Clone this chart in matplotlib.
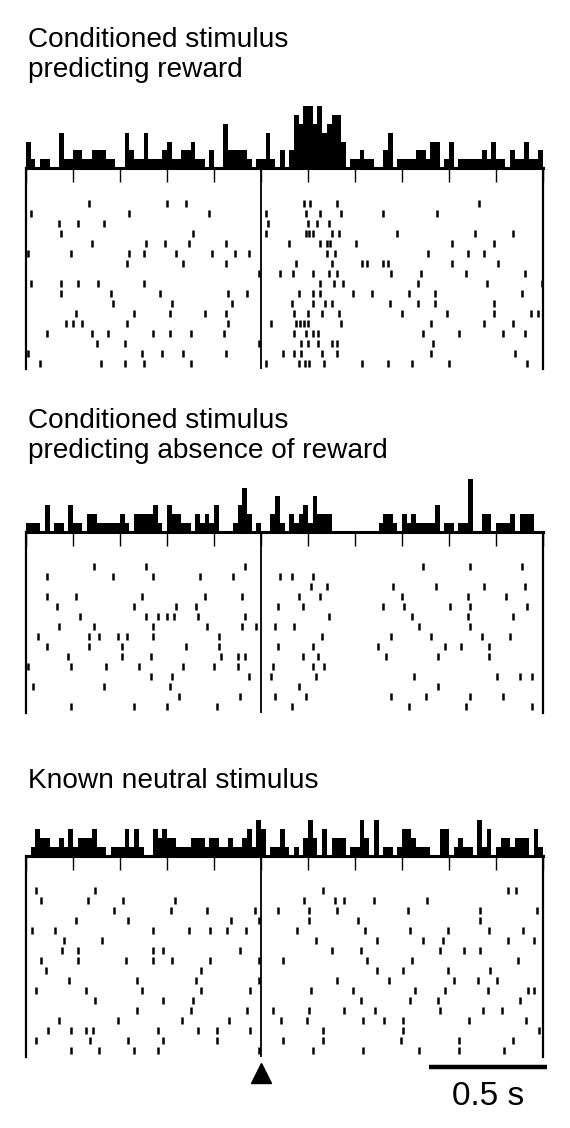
import numpy as np
import matplotlib
matplotlib.use("Agg")
import matplotlib.pyplot as plt

plt.rcParams["font.family"] = ["Liberation Sans", "DejaVu Sans"]

# ---- data (time in s, stimulus onset at 0) ----
T_START, T_END, BIN = -1.0, 1.2, 0.02

titles = [["Conditioned stimulus", "predicting reward"],
          ["Conditioned stimulus", "predicting absence of reward"],
          ["Known neutral stimulus"]]

hist_reward = [3, 1, 0, 1, 1, 0, 0, 4, 1, 1, 2, 2, 1, 1, 2, 2, 2, 1, 1, 0,
               0, 4, 2, 1, 1, 4, 1, 1, 1, 2, 3, 1, 1, 2, 2, 3, 1, 1, 0, 2,
               0, 0, 5, 2, 2, 2, 2, 1, 0, 1, 1, 4, 1, 0, 2, 0, 2, 6, 5, 7,
               7, 5, 7, 4, 5, 6, 6, 3, 0, 1, 1, 2, 1, 1, 0, 0, 2, 4, 0, 1,
               1, 1, 1, 2, 2, 1, 3, 3, 0, 1, 3, 0, 1, 1, 1, 1, 1, 2, 1, 3,
               1, 1, 0, 2, 1, 1, 3, 1, 1, 2]
hist_noreward = [1, 1, 1, 0, 3, 0, 1, 1, 0, 3, 1, 1, 0, 2, 2, 1, 1, 1, 1, 1,
                 2, 1, 0, 2, 2, 2, 2, 3, 1, 0, 3, 2, 2, 1, 1, 0, 2, 1, 2, 1,
                 3, 0, 0, 0, 1, 3, 5, 2, 0, 1, 0, 0, 2, 4, 1, 0, 2, 1, 2, 3,
                 1, 4, 2, 2, 2, 0, 0, 0, 0, 0, 0, 0, 0, 0, 0, 1, 2, 2, 1, 0,
                 2, 1, 2, 1, 1, 1, 1, 3, 0, 1, 1, 0, 1, 1, 6, 0, 0, 2, 2, 0,
                 1, 1, 1, 2, 0, 2, 2, 2, 0, 0]
hist_neutral = [0, 1, 3, 2, 2, 1, 1, 2, 1, 3, 1, 2, 2, 2, 3, 1, 1, 0, 1, 1,
                1, 3, 1, 3, 1, 0, 0, 3, 2, 3, 2, 2, 1, 1, 1, 2, 2, 2, 1, 2,
                2, 1, 1, 2, 1, 1, 2, 3, 1, 4, 3, 0, 1, 1, 3, 1, 0, 1, 0, 2,
                4, 2, 0, 3, 0, 2, 2, 2, 0, 1, 1, 4, 2, 0, 4, 0, 1, 1, 0, 1,
                3, 3, 2, 1, 1, 1, 0, 0, 3, 3, 0, 1, 2, 1, 1, 0, 4, 1, 3, 0,
                1, 2, 2, 1, 2, 2, 2, 0, 3, 1]

spikes_reward = [
    [-0.730, -0.399, -0.320, 0.184, 0.208, 0.322, 0.929],
    [-0.980, -0.560, -0.220, 0.020, 0.191, 0.251, 0.340, 0.520, 0.750],
    [-0.858, -0.780, -0.669, 0.031, 0.201, 0.240, 0.291],
    [-0.851, -0.288, 0.020, 0.191, 0.204, 0.223, 0.301, 0.333, 0.580, 0.911, 1.071],
    [-0.718, -0.489, -0.410, -0.308, -0.149, 0.120, 0.251, 0.280, 0.294, 0.403, 0.811, 0.993],
    [-0.993, -0.809, -0.560, -0.498, -0.362, -0.210, -0.109, -0.050, 0.280, 0.314, 0.709, 0.882, 0.950],
    [-0.570, -0.331, -0.149, 0.149, 0.303, 0.431, 0.450, 0.520, 0.542, 0.811, 1.010],
    [-0.007, 0.081, 0.137, 0.223, 0.291, 0.322, 0.552, 0.681, 0.871, 1.123],
    [-0.980, -0.851, -0.780, -0.692, -0.498, 0.251, 0.312, 0.350, 0.669, 0.960, 1.194],
    [-0.851, -0.640, -0.430, -0.139, -0.058, 0.162, 0.223, 0.251, 0.390, 0.471, 0.630, 0.740, 1.112],
    [-0.628, -0.377, -0.122, 0.131, 0.223, 0.272, 0.301, 0.549, 0.669, 0.740, 0.993],
    [-0.789, -0.539, -0.387, -0.238, -0.149, 0.140, 0.201, 0.261, 0.333, 0.601, 0.793, 0.993, 1.149, 1.180],
    [-0.831, -0.801, -0.760, -0.570, -0.139, 0.041, 0.149, 0.166, 0.184, 0.201, 0.340, 0.722, 0.950, 1.071],
    [-0.911, -0.718, -0.650, -0.460, -0.387, -0.299, -0.159, 0.140, 0.191, 0.223, 0.241, 0.691, 0.843, 1.031, 1.123],
    [-0.699, -0.579, -0.007, 0.170, 0.201, 0.241, 0.301, 0.325, 0.731],
    [-0.993, -0.508, -0.420, -0.331, -0.149, 0.092, 0.140, 0.170, 0.261, 0.322, 0.722, 1.081],
    [-0.940, -0.681, -0.579, -0.498, -0.299, 0.020, 0.162, 0.187, 0.204, 0.269, 0.431, 0.542, 0.641, 0.801, 1.131],
]

spikes_noreward = [
    [-0.709, -0.489, -0.068, 0.691, 0.889, 1.112],
    [-0.911, -0.628, -0.461, -0.260, -0.120, 0.081, 0.131, 0.223],
    [0.211, 0.282, 0.563, 0.743, 0.950, 1.123],
    [-0.911, -0.789, -0.508, -0.238, -0.080, 0.162, 0.251, 0.601, 0.882, 1.043],
    [-0.869, -0.539, -0.362, -0.278, 0.071, 0.180, 0.520, 0.610, 0.804, 0.889, 1.133],
    [-0.770, -0.489, -0.440, -0.401, -0.370, -0.267, -0.068, 0.291, 0.641, 0.882, 1.071],
    [-0.860, -0.709, -0.461, -0.229, -0.080, -0.021, 0.061, 0.140, 0.672, 0.889],
    [-0.950, -0.730, -0.691, -0.610, -0.569, -0.461, -0.179, 0.261, 0.552, 0.722, 0.942, 1.060],
    [-0.911, -0.730, -0.590, -0.320, -0.179, 0.071, 0.223, 0.499, 0.783, 0.851, 0.970],
    [-0.820, -0.590, -0.468, -0.169, -0.099, -0.068, 0.180, 0.241, 0.531, 0.752, 0.970],
    [-0.993, -0.809, -0.660, -0.519, -0.331, -0.199, -0.099, 0.052, 0.223, 0.269],
    [-0.468, -0.377, -0.050, 0.041, 0.233, 0.651, 1.003, 1.102, 1.152],
    [-0.970, -0.669, -0.387, 0.162, 0.752],
    [-0.349, -0.089, 0.061, 0.190, 0.552, 0.702, 0.889, 1.031],
    [-0.809, -0.539, -0.399, -0.189, 0.131, 0.631, 0.872, 1.152],
]

spikes_neutral = [
    [-0.957, -0.706, 0.263, 1.052, 1.084],
    [-0.937, -0.737, -0.588, -0.366, 0.184, 0.315, 0.353, 0.482, 0.705],
    [-0.625, -0.384, -0.229, -0.026, 0.074, 0.204, 0.325, 0.624, 0.932, 1.173],
    [-0.787, -0.567, -0.128, -0.007, 0.204, 0.414, 0.932],
    [-0.976, -0.877, -0.458, -0.306, -0.217, -0.146, -0.065, 0.154, 0.443, 0.634, 0.797, 0.971, 1.116],
    [-0.837, -0.678, 0.234, 0.492, 0.691, 0.773, 1.052, 1.163],
    [-0.845, -0.777, -0.458, -0.416, -0.089, 0.303, 0.424, 0.762, 0.864, 0.932],
    [-0.937, -0.777, -0.576, -0.458, -0.377, -0.217, -0.007, 0.095, 0.452, 0.644, 1.095],
    [-0.916, -0.257, 0.492, 0.603, 0.797, 0.974],
    [-0.817, -0.526, -0.277, -0.007, 0.325, 0.545, 0.823, 0.925, 1.005],
    [-0.957, -0.746, -0.505, -0.257, -0.047, 0.213, 0.393, 0.655, 0.783, 0.965, 1.135, 1.163],
    [-0.706, -0.416, -0.288, 0.424, 0.634, 0.754, 1.102],
    [-0.526, -0.298, -0.058, 0.052, 0.204, 0.353, 0.485, 0.762, 0.943, 1.024],
    [-0.858, -0.607, -0.337, -0.135, 0.085, 0.194, 0.435, 0.523, 0.603, 0.885, 1.126],
    [-0.908, -0.809, -0.746, -0.716, -0.437, -0.267, -0.186, -0.047, 0.263, 0.603, 1.184],
    [-0.957, -0.728, -0.567, -0.418, -0.186, 0.095, 0.263, 0.594, 0.844, 1.074],
    [-0.809, -0.688, -0.539, -0.437, -0.007, 0.223, 0.435, 0.674, 0.844, 1.035],
]

hists = [hist_reward, hist_noreward, hist_neutral]
rasters = [spikes_reward, spikes_noreward, spikes_neutral]

# ---- layout in pixels ----
W, H = 570, 1128
X0, X1 = 26, 543
baselines = [168, 531.5, 855.5]
title_y = [47, 428, 788]   # baseline of the first title line
LINE_GAP = 30
PX_PER_COUNT = 8.8
ROW_PX = 10
FIRST_ROW = 35


def box(x0, y0, x1, y1):
    return [x0 / W, 1 - y1 / H, (x1 - x0) / W, (y1 - y0) / H]


fig = plt.figure(figsize=(W / 100, H / 100), dpi=100)
edges = np.round(np.arange(T_START, T_END + BIN / 2, BIN), 3)

for k in range(3):
    yb = baselines[k]
    # PSTH
    hax = fig.add_axes(box(X0, yb - 80, X1, yb))
    hax.stairs(hists[k], edges, fill=True, color="black", linewidth=0)
    hax.set_xlim(T_START, T_END)
    hax.set_ylim(0, 80 / PX_PER_COUNT)
    for s in ["top", "left", "right"]:
        hax.spines[s].set_visible(False)
    hax.spines["bottom"].set_linewidth(2.2)
    hax.set_xticks(np.arange(-1.0, 1.21, 0.2))
    hax.tick_params(axis="x", direction="out", length=10, width=1.0, labelbottom=False)
    hax.set_yticks([])

    # raster
    trials = rasters[k]
    n = len(trials)
    bottom = yb + FIRST_ROW + ROW_PX * (n - 1) + 6
    rax = fig.add_axes(box(X0, yb, X1, bottom))
    rax.eventplot(trials, lineoffsets=np.arange(n), linelengths=0.7,
                  linewidths=1.8, colors="black")
    rax.axvline(0, color="black", linewidth=1.3)
    rax.set_xlim(T_START, T_END)
    rax.set_ylim(n - 1 + 0.6, -FIRST_ROW / ROW_PX)
    for s in ["top", "bottom"]:
        rax.spines[s].set_visible(False)
    rax.spines["left"].set_linewidth(1.6)
    rax.spines["right"].set_linewidth(1.6)
    rax.set_xticks([])
    rax.set_yticks([])
    rax.patch.set_alpha(0)

    for j, line in enumerate(titles[k]):
        fig.text(28 / W, 1 - (title_y[k] + j * LINE_GAP) / H, line,
                 fontsize=20.2, ha="left", va="baseline")

# stimulus marker and scale bar
fax = fig.add_axes(box(X0, 1056, X1, H))
fax.set_xlim(T_START, T_END)
fax.set_ylim(72, 0)
fax.axis("off")
fax.plot([0], [17], marker="^", markersize=14.4, color="black", clip_on=False)
fax.plot([0.715, 1.215], [11, 11], color="black", linewidth=3.2,
         solid_capstyle="butt", clip_on=False)
fax.text(0.965, 49, "0.5 s", fontsize=24, ha="center", va="baseline")

fig.savefig("out.png", dpi=100)
